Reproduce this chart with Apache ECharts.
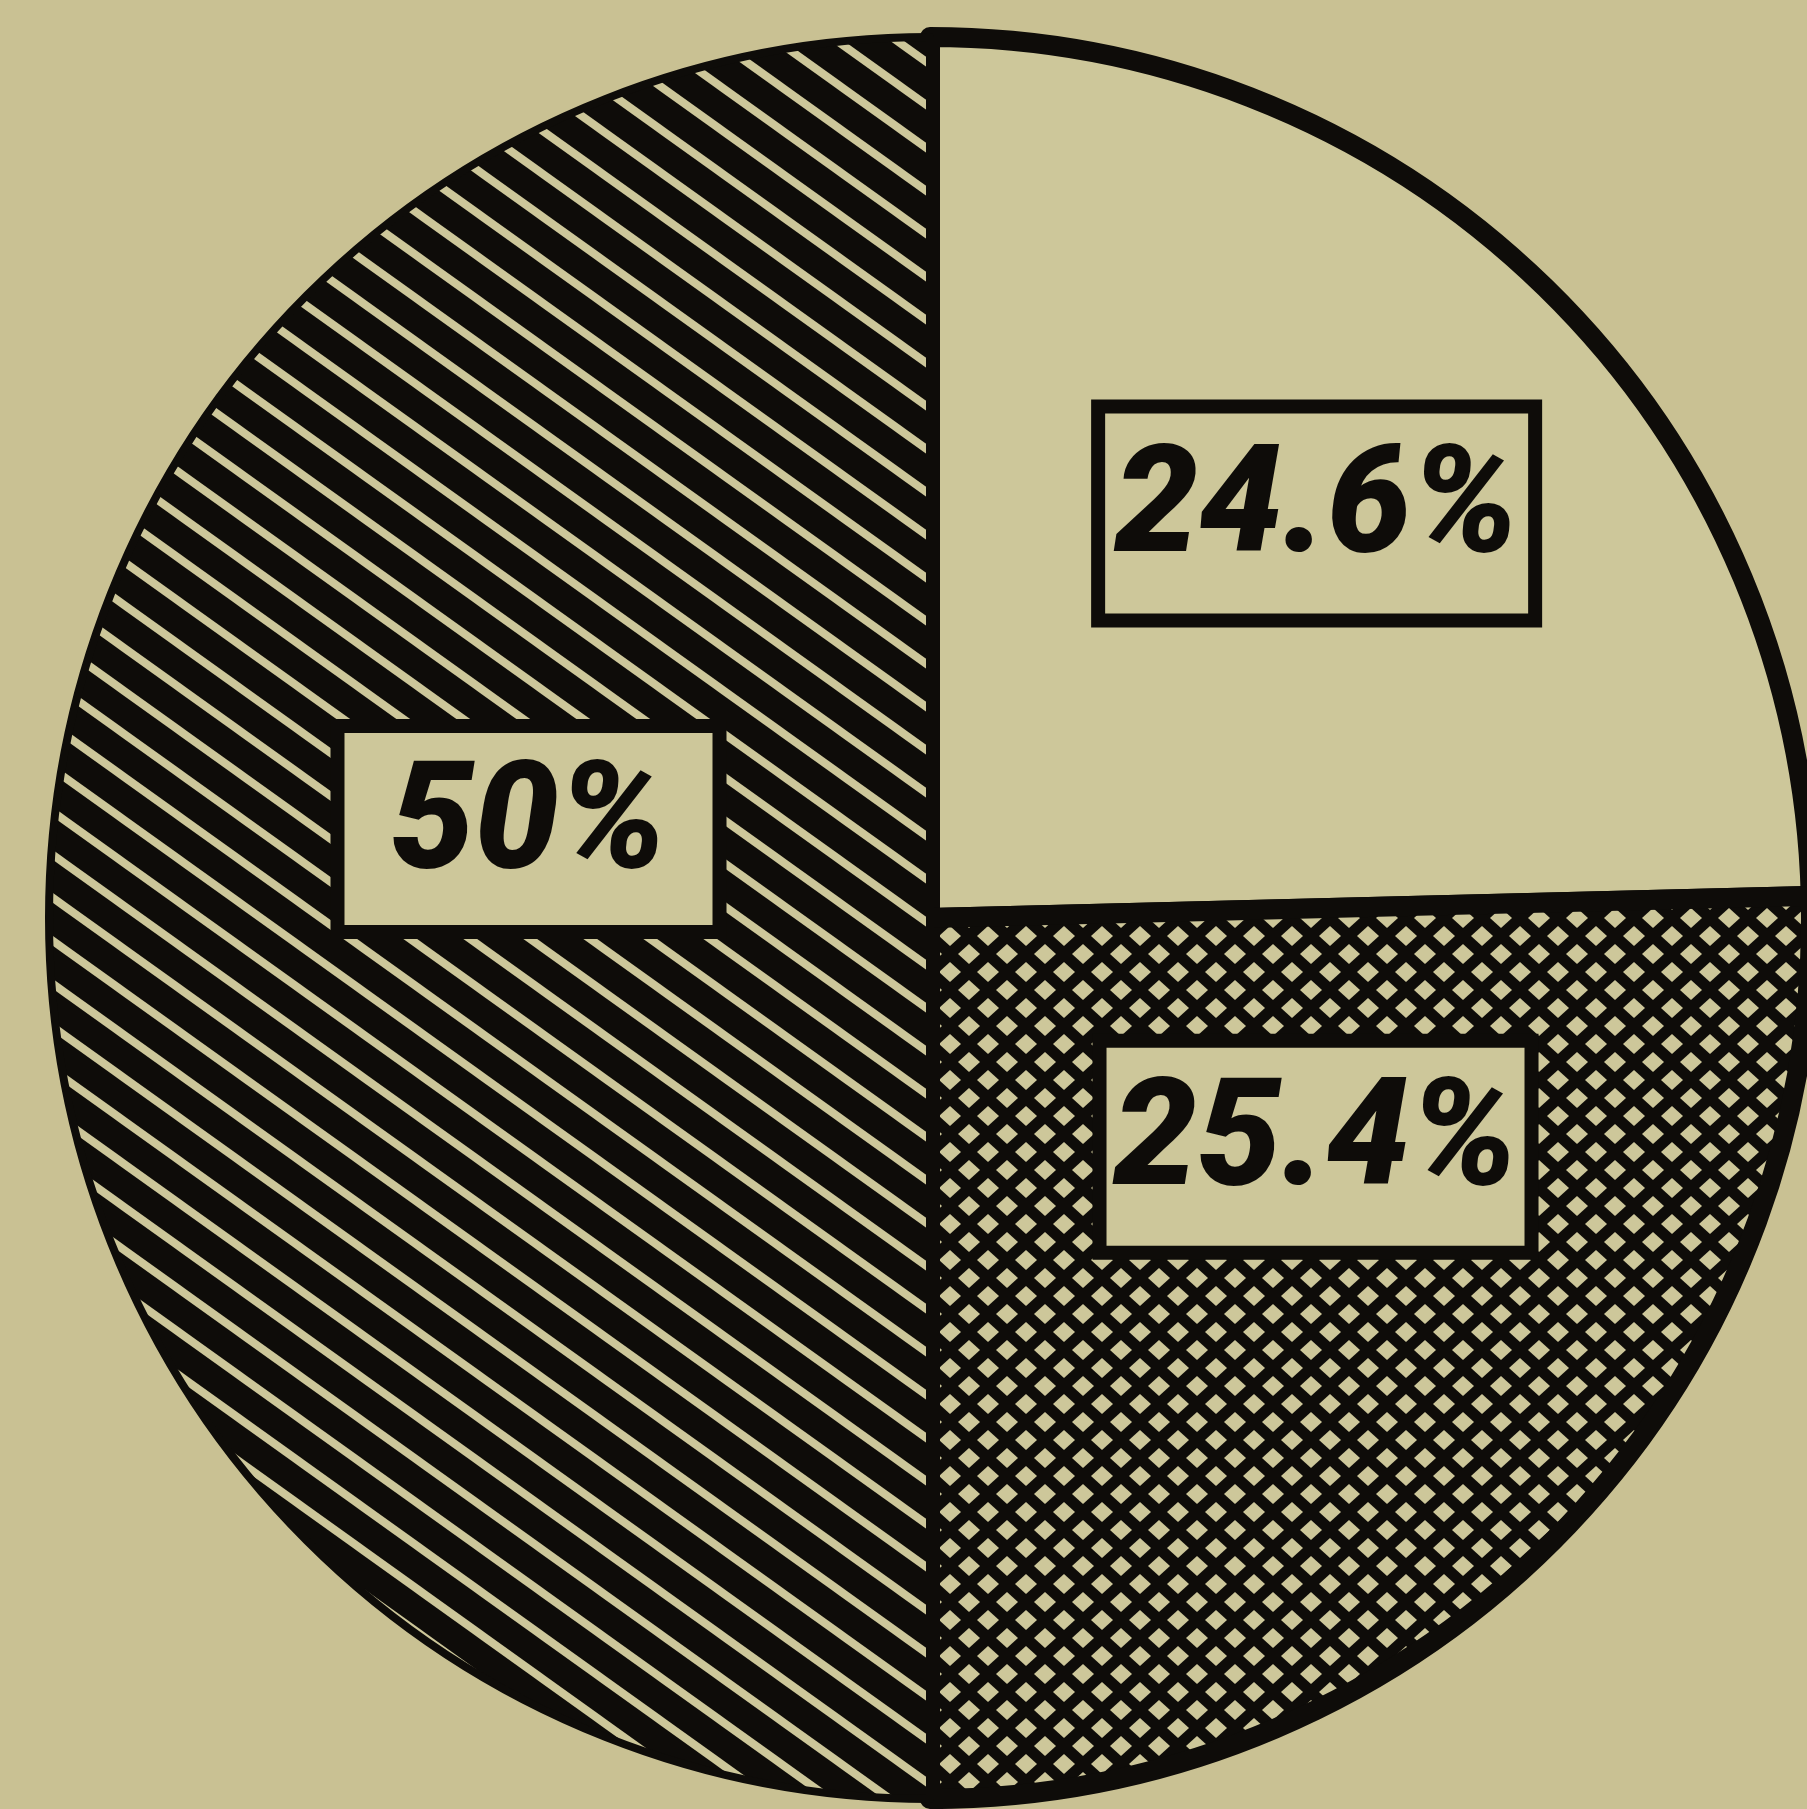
<!DOCTYPE html>
<html>
<head>
<meta charset="utf-8">
<script src="https://cdn.jsdelivr.net/npm/echarts@6/dist/echarts.min.js"></script>
<style>
  html, body { margin: 0; padding: 0; background: #c9c193; }
  #chart { width: 1807px; height: 1809px; }
</style>
</head>
<body>
<div id="chart"></div>
<script>
// ---- data ----
const categories = ['A', 'B', 'C'];
const values = [24.6, 25.4, 50];
const labels = ['24.6%', '25.4%', '50%'];

// ---- styles ----
const BG = '#c9c193';
const PALE = '#cdc79a';
const INK = '#0e0c09';
const labelShift = [[77, -87], [68, -81], [42, -89]];
const labelBox = [[423, 200], [418, 198], [368, 192]];
const borderW = [20, 20, 8];

function stripePattern() {
  const W = 60, H = 43;
  const c = document.createElement('canvas');
  c.width = W; c.height = H;
  const g = c.getContext('2d');
  g.fillStyle = INK; g.fillRect(0, 0, W, H);
  g.strokeStyle = PALE; g.lineWidth = 8; g.lineCap = 'butt';
  for (let k = -3; k <= 3; k++) {
    g.beginPath();
    g.moveTo(-W, k * H - H);
    g.lineTo(2 * W, k * H + 2 * H);
    g.stroke();
  }
  return c;
}
function crossPattern() {
  const W = 38, H = 36, hw = 11, hh = 10;
  const c = document.createElement('canvas');
  c.width = W; c.height = H;
  const g = c.getContext('2d');
  g.fillStyle = INK; g.fillRect(0, 0, W, H);
  g.fillStyle = PALE;
  const centers = [[W / 2, H / 2], [0, 0], [W, 0], [0, H], [W, H]];
  centers.forEach(([x, y]) => {
    g.beginPath();
    g.moveTo(x - hw, y); g.lineTo(x, y - hh); g.lineTo(x + hw, y); g.lineTo(x, y + hh);
    g.closePath(); g.fill();
  });
  return c;
}

const fills = [PALE, { image: crossPattern(), repeat: 'repeat' }, { image: stripePattern(), repeat: 'repeat' }];

const chart = echarts.init(document.getElementById('chart'), null, { renderer: 'canvas' });
chart.setOption({
  backgroundColor: BG,
  animation: false,
  series: [{
    type: 'pie',
    center: [930, 918],
    radius: [0, 881],
    startAngle: 90,
    clockwise: true,
    silent: true,
    avoidLabelOverlap: false,
    labelLine: { show: false },
    data: categories.map((c, i) => ({
      name: c,
      value: values[i],
      itemStyle: { color: fills[i], borderColor: INK, borderWidth: borderW[i], borderJoin: 'round' },
      label: {
        show: true,
        position: 'inside',
        formatter: labels[i],
        width: labelBox[i][0],
        lineHeight: labelBox[i][1],
        overflow: 'none',
        align: 'center',
        verticalAlign: 'middle',
        fontFamily: 'Roboto, "Liberation Sans", sans-serif',
        fontWeight: 900,
        fontStyle: 'italic',
        fontSize: 150,
        color: INK,
        backgroundColor: PALE,
        borderColor: INK,
        borderWidth: 14,
        padding: 0
      }
    })),
    labelLayout: function (p) {
      const s = labelShift[p.dataIndex];
      return { dx: s[0], dy: s[1] };
    }
  }]
});
</script>
</body>
</html>
